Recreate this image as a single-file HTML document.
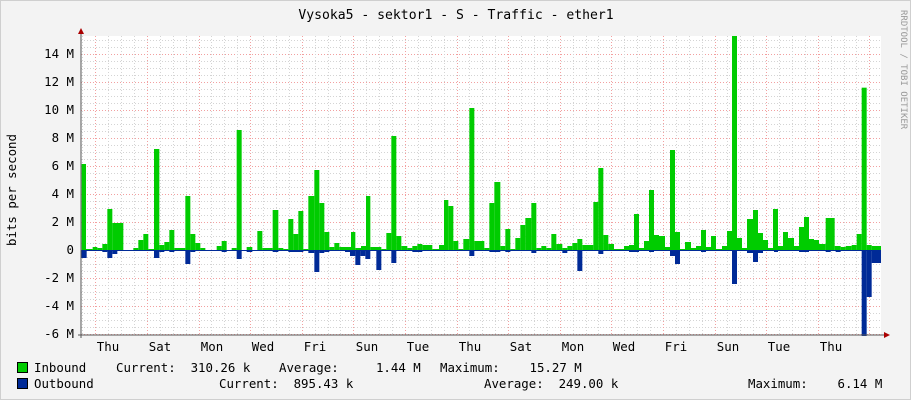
<!DOCTYPE html>
<html><head><meta charset="utf-8"><style>
body{margin:0;background:#f3f3f3;}
#c{position:relative;width:911px;height:400px;background:#f3f3f3;overflow:hidden;font-family:"DejaVu Sans Mono","Liberation Mono",monospace;font-size:12.4px;color:#000;}
svg{position:absolute;left:0;top:0;}
.t{position:absolute;white-space:pre;line-height:14px;}
</style></head><body><div id="c">
<svg id="s" width="911" height="400" xmlns="http://www.w3.org/2000/svg">
<rect x="0" y="0" width="911" height="400" fill="#f3f3f3"/>
<rect x="0.5" y="0.5" width="910" height="399" fill="none" stroke="#cfcfcf"/>
<rect x="81" y="36" width="800" height="299" fill="#ffffff"/>
<g id="grid"></g>
<g id="bars"></g>
<line x1="81" y1="30" x2="81" y2="338" stroke="#555" stroke-width="1"/>
<line x1="78" y1="335" x2="886" y2="335" stroke="#555" stroke-width="1"/>
<polygon points="78,34 84,34 81,28" fill="#a00"/>
<polygon points="884,332 884,338 890,335" fill="#a00"/>
<text x="901" y="10" transform="rotate(90 901 10)" font-family="DejaVu Sans Mono,monospace" font-size="9" fill="#999">RRDTOOL / TOBI OETIKER</text>
<text x="16" y="190" transform="rotate(-90 16 190)" text-anchor="middle" font-family="DejaVu Sans Mono,monospace" font-size="12.4">bits per second</text>
<text x="456" y="19" text-anchor="middle" font-family="DejaVu Sans Mono,monospace" font-size="13.1">Vysoka5 - sektor1 - S - Traffic - ether1</text>
<g font-family="DejaVu Sans Mono,monospace" font-size="12.4" text-anchor="end">
<text x="74" y="58">14 M</text><text x="74" y="86">12 M</text><text x="74" y="114">10 M</text>
<text x="74" y="142">8 M</text><text x="74" y="170">6 M</text><text x="74" y="198">4 M</text>
<text x="74" y="226">2 M</text><text x="74" y="254">0</text><text x="74" y="282">-2 M</text>
<text x="74" y="310">-4 M</text><text x="74" y="338">-6 M</text>
</g>
<g font-family="DejaVu Sans Mono,monospace" font-size="12.4" text-anchor="middle">
<text x="108" y="351">Thu</text><text x="160" y="351">Sat</text><text x="212" y="351">Mon</text>
<text x="263" y="351">Wed</text><text x="315" y="351">Fri</text><text x="367" y="351">Sun</text>
<text x="418" y="351">Tue</text><text x="470" y="351">Thu</text><text x="521" y="351">Sat</text>
<text x="573" y="351">Mon</text><text x="624" y="351">Wed</text><text x="676" y="351">Fri</text>
<text x="728" y="351">Sun</text><text x="779" y="351">Tue</text><text x="831" y="351">Thu</text>
</g>
<rect x="17.5" y="362.5" width="10" height="10" fill="#00cc00" stroke="#000"/>
<rect x="17.5" y="378.5" width="10" height="10" fill="#002a97" stroke="#000"/>
</svg>
<div class="t" style="left:34px;top:361px">Inbound</div>
<div class="t" style="left:116px;top:361px">Current:  310.26 k</div>
<div class="t" style="left:279px;top:361px">Average:     1.44 M</div>
<div class="t" style="left:440px;top:361px">Maximum:    15.27 M</div>
<div class="t" style="left:34px;top:377px">Outbound</div>
<div class="t" style="left:219px;top:377px">Current:  895.43 k</div>
<div class="t" style="left:484px;top:377px">Average:  249.00 k</div>
<div class="t" style="left:748px;top:377px">Maximum:    6.14 M</div>
</div>
<script>
var NS="http://www.w3.org/2000/svg";
function el(p,t,a){var e=document.createElementNS(NS,t);for(var k in a)e.setAttribute(k,a[k]);p.appendChild(e);return e;}
var g=document.getElementById("grid");
for(var y=250;y>=36;y-=7){var maj=((250-y)%28)==0;el(g,"line",{x1:81,x2:881,y1:y+.5,y2:y+.5,stroke:maj?"#f2a0a0":"#d4d4d4","stroke-dasharray":"1,2"});}
for(var y=257;y<=335;y+=7){var maj=((y-250)%28)==0;el(g,"line",{x1:81,x2:881,y1:y+.5,y2:y+.5,stroke:maj?"#f2a0a0":"#d4d4d4","stroke-dasharray":"1,2"});}
for(var i=-1;i<64;i++){var x=95.3+i*12.9;if(x<82||x>880)continue;var maj=(i%4==0);el(g,"line",{x1:Math.round(x)+.5,x2:Math.round(x)+.5,y1:36,y2:335,stroke:maj?"#f2a0a0":"#d4d4d4","stroke-dasharray":"1,2"});}
var b=document.getElementById("bars");
function G(o,arr){for(var i=0;i<arr.length;i++){var a=arr[i];var x0=o+a[0]/3,x1=o+a[1]/3,y=100+a[2]/3;if(y<250)el(b,"rect",{x:x0,y:y,width:x1-x0,height:250-y,fill:"#00cc00"});}}
function B(o,arr){for(var i=0;i<arr.length;i++){var a=arr[i];var x0=o+a[0]/3,x1=o+a[1]/3,y=100+a[2]/3;el(b,"rect",{x:x0,y:250,width:x1-x0,height:y-250,fill:"#002a97"});}}
G(80,[[5,18,192],[18,38,447],[38,52,441],[52,67,444],[67,82,432],[82,97,327],[97,130,369],[160,175,444],[175,190,420],[190,205,402],[205,222,447],[222,238,147],[238,253,435],[253,268,426],[268,283,390],[283,316,444],[316,331,288],[331,346,402],[346,361,429],[361,376,444],[410,425,438],[425,440,423],[455,470,444],[470,485,90],[500,517,441],[532,547,393],[547,578,444],[578,595,330],[595,610,444],[610,625,447],[625,640,357],[640,655,402],[655,670,333],[670,685,447],[685,703,288],[703,718,210],[718,733,309],[733,748,396],[748,763,441],[763,778,429],[778,810,441]]);
B(80,[[3,20,474],[67,82,456],[82,97,474],[97,112,462],[222,238,474],[238,253,456],[268,283,456],[316,331,492],[331,346,456],[425,440,456],[470,485,477],[500,517,456],[578,595,456],[625,670,456],[685,703,459],[703,718,516],[718,733,459],[733,748,456],[795,810,456]]);
G(345,[[0,18,441],[18,31,396],[31,48,444],[48,63,438],[63,76,288],[76,109,441],[109,124,447],[124,139,399],[139,154,108],[154,169,408],[169,187,438],[187,202,444],[202,217,438],[217,232,432],[232,262,435],[262,282,447],[282,297,435],[297,310,300],[310,325,318],[325,340,423],[340,355,447],[355,373,417],[373,388,24],[388,418,423],[418,433,444],[433,448,309],[448,466,246],[466,481,438],[481,496,387],[496,511,447],[511,526,414],[526,541,375],[541,559,354],[559,574,309],[574,589,444],[589,604,438],[604,619,444],[619,634,402],[634,652,432],[652,667,444],[667,682,438],[682,697,429],[697,712,417],[712,745,435],[745,760,306],[760,775,204],[775,790,405],[790,805,432]]);
B(345,[[15,31,468],[31,46,495],[46,61,468],[61,76,477],[94,109,510],[139,154,489],[202,232,456],[373,388,468],[433,466,456],[481,496,456],[559,574,459],[652,667,459],[697,712,513],[760,775,462]]);
G(612,[[0,6,432],[6,36,447],[36,51,438],[51,66,435],[66,81,342],[81,96,444],[96,111,423],[111,126,270],[126,141,405],[141,159,408],[159,174,441],[174,189,150],[189,204,396],[204,219,447],[219,237,426],[237,252,444],[252,267,438],[267,282,390],[282,297,441],[297,312,408],[312,330,447],[330,345,438],[345,360,393],[360,375,-192],[375,390,414],[390,405,444],[405,423,357],[423,438,330],[438,453,399],[453,468,420],[468,483,444],[483,498,327],[498,513,438],[513,528,396],[528,546,414],[546,561,438],[561,576,381],[576,591,351],[591,606,417],[606,621,420],[621,641,432],[641,668,354],[668,686,438],[686,701,441],[701,719,438],[719,734,435],[734,749,402],[749,764,-37],[764,779,435],[779,807,438]]);
B(612,[[51,81,456],[111,126,456],[174,189,468],[189,204,492],[267,282,456],[360,375,552],[405,423,459],[423,438,486],[438,453,459],[486,498,456],[561,591,456],[641,656,456],[671,686,456],[749,764,708],[764,779,591],[779,807,489]]);
el(b,"line",{x1:81,x2:881,y1:250.5,y2:250.5,stroke:"#002a97","stroke-width":1});
</script>
</body></html>
